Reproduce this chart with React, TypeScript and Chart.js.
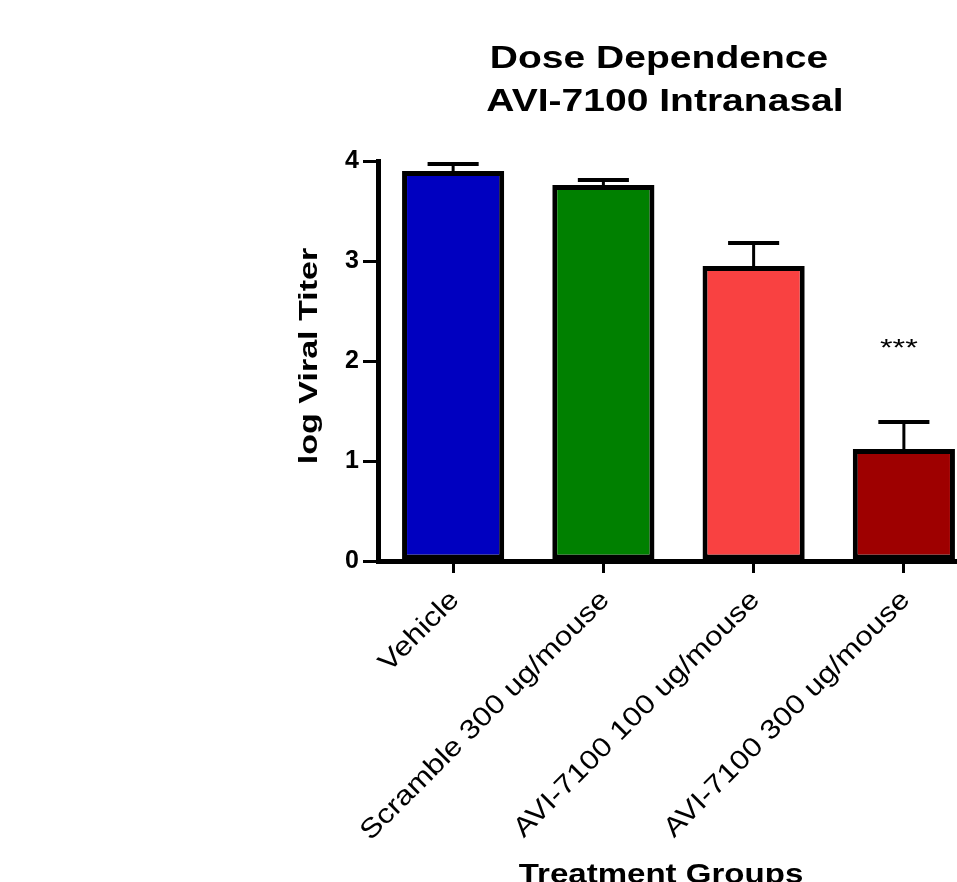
import React, { useEffect, useRef } from 'react';
import { Chart, registerables } from 'chart.js';

Chart.register(...registerables);

const categories = ['Vehicle', 'Scramble 300 ug/mouse', 'AVI-7100 100 ug/mouse', 'AVI-7100 300 ug/mouse'];
const meanTiter = [3.9, 3.76, 2.95, 1.12];
const semTiter = [0.07, 0.05, 0.23, 0.27];
const barColors = ['#0000C0', '#008000', '#F94141', '#9E0000'];
const yTickValues = [0, 1, 2, 3, 4];
const titleLines = ['Dose Dependence', 'AVI-7100 Intranasal'];
const yAxisTitle = 'log Viral Titer';
const xAxisTitle = 'Treatment Groups';
const significance = ['', '', '', '***'];
const significanceY = 2.05;

const FONT = '"Liberation Sans", Arial, Helvetica, sans-serif';
const STRETCH = 1.22;

function drawText(
  ctx: CanvasRenderingContext2D,
  text: string,
  x: number,
  y: number,
  font: string,
  align: CanvasTextAlign,
  baseline: CanvasTextBaseline,
  rotation = 0,
  stretch = STRETCH
) {
  ctx.save();
  ctx.font = font;
  ctx.fillStyle = '#000';
  ctx.textAlign = align;
  ctx.textBaseline = baseline;
  ctx.translate(x, y);
  ctx.rotate(rotation);
  ctx.scale(stretch, 1);
  ctx.fillText(text, 0, 0);
  ctx.restore();
}

const customPlugin = {
  id: 'customDecor',
  afterDatasetsDraw(chart: any) {
    const ctx = chart.ctx;
    const meta = chart.getDatasetMeta(0);
    const y = chart.scales.y;
    ctx.save();
    ctx.strokeStyle = '#000';
    meta.data.forEach((bar: any, i: number) => {
      const x = bar.x;
      const top = y.getPixelForValue(meanTiter[i] + semTiter[i]);
      const base = y.getPixelForValue(meanTiter[i]);
      const half = bar.width * 0.25;
      ctx.lineWidth = 3;
      ctx.beginPath();
      ctx.moveTo(x, base);
      ctx.lineTo(x, top);
      ctx.stroke();
      ctx.lineWidth = 4;
      ctx.beginPath();
      ctx.moveTo(x - half, top);
      ctx.lineTo(x + half, top);
      ctx.stroke();
    });
    ctx.restore();
  },
  afterDraw(chart: any) {
    const ctx = chart.ctx;
    const xs = chart.scales.x;
    const ys = chart.scales.y;
    const area = chart.chartArea;

    // main title
    drawText(ctx, titleLines[0], 659, 68, `bold 32px ${FONT}`, 'center', 'alphabetic');
    drawText(ctx, titleLines[1], 665, 111, `bold 32px ${FONT}`, 'center', 'alphabetic');

    // y axis title
    drawText(ctx, yAxisTitle, 310, (area.top + area.bottom) / 2 - 5, `bold 26px ${FONT}`, 'center', 'middle', -Math.PI / 2, 1.31);

    // x tick labels (rotated 45°)
    categories.forEach((label, i) => {
      const tx = xs.getPixelForTick(i);
      drawText(ctx, label, tx + 2, area.bottom + 35, `27px ${FONT}`, 'right', 'middle', -Math.PI / 4, 1.16);
    });

    // x axis title
    drawText(ctx, xAxisTitle, 661, 883, `bold 28px ${FONT}`, 'center', 'alphabetic', 0, 1.18);

    // significance marks
    significance.forEach((s, i) => {
      if (s) drawText(ctx, s, xs.getPixelForValue(i) - 5, ys.getPixelForValue(significanceY), `24px ${FONT}`, 'center', 'alphabetic', 0, 1.35);
    });
  },
};

export default function App() {
  const ref = useRef<HTMLCanvasElement | null>(null);

  useEffect(() => {
    if (!ref.current) return;
    Chart.defaults.font.family = FONT;
    const chart = new Chart(ref.current, {
      type: 'bar',
      data: {
        labels: categories,
        datasets: [
          {
            data: meanTiter,
            backgroundColor: barColors,
            borderColor: '#000',
            borderWidth: 5,
            borderSkipped: false,
            categoryPercentage: 1,
            barPercentage: 0.68,
          },
        ],
      },
      options: {
        animation: false,
        responsive: false,
        devicePixelRatio: 1,
        layout: { padding: { left: 290, top: 161, right: 21, bottom: 5 } },
        plugins: {
          legend: { display: false },
          title: { display: false },
          tooltip: { enabled: false },
        },
        scales: {
          x: {
            grid: { drawOnChartArea: false, offset: false, color: '#000', lineWidth: 3, tickLength: 12 },
            border: { display: true, color: '#000', width: 5, z: 1 },
            ticks: { display: false, autoSkip: false },
            afterFit: (s: any) => {
              s.height = 334;
              s.paddingLeft = 0;
              s.paddingRight = 0;
            },
          },
          y: {
            min: 0,
            max: 4,
            grid: { drawOnChartArea: false, color: '#000', lineWidth: 3, tickLength: 15 },
            border: { display: true, color: '#000', width: 5, z: 1 },
            ticks: {
              color: '#000',
              padding: 4,
              font: { size: 25, weight: 'bold', family: FONT },
            },
            afterBuildTicks: (s: any) => {
              s.ticks = yTickValues.map((v) => ({ value: v }));
            },
            afterFit: (s: any) => {
              s.width = 88;
              s.paddingTop = 0;
              s.paddingBottom = 0;
            },
          },
        },
      },
      plugins: [customPlugin],
    });
    return () => chart.destroy();
  }, []);

  return (
    <div
      style={{
        position: 'fixed',
        left: 0,
        top: 0,
        width: 957,
        height: 882,
        overflow: 'hidden',
        background: '#fff',
      }}
    >
      <canvas ref={ref} width={1000} height={900} style={{ display: 'block', width: 1000, height: 900 }} />
    </div>
  );
}
